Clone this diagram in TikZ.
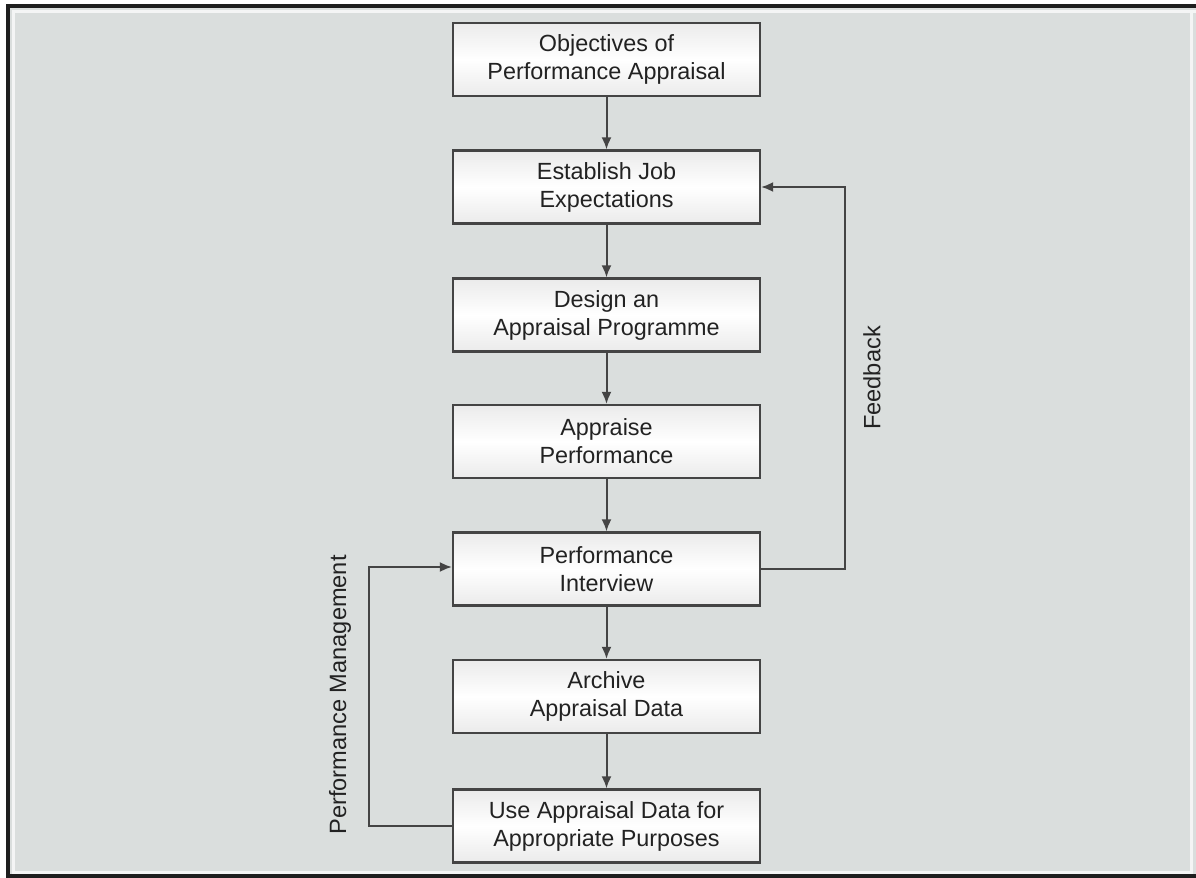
\documentclass[tikz,border=0pt]{standalone}
\usepackage{fontspec}
\setmainfont{Liberation Sans}
\usetikzlibrary{arrows.meta}
\definecolor{panel}{RGB}{218,222,221}
\definecolor{frameline}{RGB}{30,30,30}
\definecolor{ink}{RGB}{68,68,68}
\definecolor{txt}{RGB}{34,34,34}
\tikzset{
  stagebox/.style={draw=ink, line width=1.1pt, top color=gray!16, bottom color=gray!16,
    middle color=white, minimum width=153.5pt, minimum height=36.5pt, inner sep=0pt,
    align=center, text=txt, font=\fontsize{11.7}{14}\selectfont},
  conn/.style={draw=ink, line width=1pt, -{Latex[length=6pt,width=5pt]}},
  looplabel/.style={rotate=90, text=txt, font=\fontsize{11.8}{14}\selectfont}
}
\begin{document}
\begin{tikzpicture}[x=0.5pt, y=-0.5pt]
  % page and framed panel
  \useasboundingbox (0,0) rectangle (1196,878);
  \fill[white] (0,0) rectangle (1196,878);
  \fill[panel] (8,6) rectangle (1196,876);
  \draw[white!70!panel, line width=1.5pt] (13,878) -- (13,11) -- (1196,11);
  \draw[white!70!panel, line width=1.5pt] (1191,11) -- (1191,872) -- (13,872);
  \fill[frameline] (6,4) rectangle (10,878);
  \fill[frameline] (6,4) rectangle (1196,8);
  \fill[frameline] (6,874) rectangle (1196,878);

  % process stages
  \node[stagebox] (b1) at (606.5,59.5) {Objectives of\\Performance Appraisal};
  \node[stagebox] (b2) at (606.5,187) {Establish Job\\Expectations};
  \node[stagebox] (b3) at (606.5,315) {Design an\\Appraisal Programme};
  \node[stagebox] (b4) at (606.5,441.5) {Appraise\\Performance};
  \node[stagebox] (b5) at (606.5,569) {Performance\\Interview};
  \node[stagebox] (b6) at (606.5,696.5) {Archive\\Appraisal Data};
  \node[stagebox] (b7) at (606.5,826) {Use Appraisal Data for\\Appropriate Purposes};

  % main flow
  \draw[conn] (b1) -- (b2);
  \draw[conn] (b2) -- (b3);
  \draw[conn] (b3) -- (b4);
  \draw[conn] (b4) -- (b5);
  \draw[conn] (b5) -- (b6);
  \draw[conn] (b6) -- (b7);

  % feedback loop
  \coordinate (fbx) at (844.5,0);
  \draw[conn] (b5.east) -- (b5.east -| fbx) |- (b2.east);
  \node[looplabel] (fb) at (872,378) {Feedback};

  % performance management loop
  \coordinate (pmx) at (369,0);
  \draw[conn] (b7.west) -- (b7.west -| pmx) |- ([yshift=1pt]b5.west);
  \node[looplabel] (pm) at (340,695) {Performance Management};
\end{tikzpicture}
\end{document}
